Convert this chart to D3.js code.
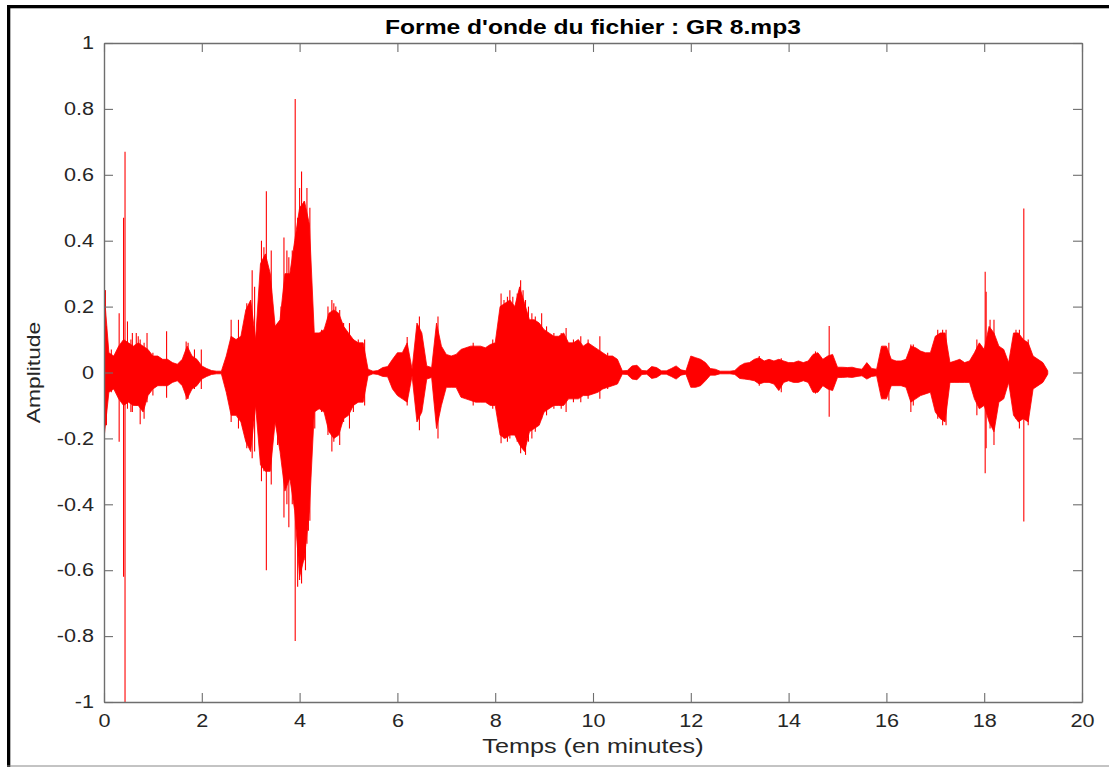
<!DOCTYPE html>
<html><head><meta charset="utf-8">
<script src="https://cdn.jsdelivr.net/npm/d3@7"></script>
<style>body{margin:0;background:#fff}svg{display:block}</style>
</head><body>
<svg id="c" width="1109" height="767"></svg>
<script>
// ---- data ----
const title = "Forme d'onde du fichier : GR 8.mp3";
const xLabel = "Temps (en minutes)";
const yLabel = "Amplitude";
const xTicks = [0,2,4,6,8,10,12,14,16,18,20];
const yTicks = [-1,-0.8,-0.6,-0.4,-0.2,0,0.2,0.4,0.6,0.8,1];
const yTickLabels = ["-1","-0.8","-0.6","-0.4","-0.2","0","0.2","0.4","0.6","0.8","1"];

// envelope sample times (minutes)
const envT = [
 0.0,0.1,0.2,0.3,0.4,0.5,0.6,0.7,0.8,0.9,
 1.0,1.1,1.2,1.3,1.4,1.5,1.6,1.7,1.8,1.9,
 2.0,2.1,2.2,2.3,2.4,2.5,2.6,2.7,2.8,2.9,
 3.0,3.1,3.2,3.3,3.4,3.5,3.6,3.7,3.8,3.9,
 4.0,4.1,4.2,4.3,4.4,4.5,4.6,4.7,4.8,4.9,
 5.0,5.1,5.2,5.3,5.4,5.5,5.6,5.7,5.8,5.9,
 6.0,6.1,6.2,6.3,6.4,6.5,6.6,6.7,6.8,6.9,
 7.0,7.1,7.2,7.3,7.4,7.5,7.6,7.7,7.8,7.9,
 8.0,8.1,8.2,8.3,8.4,8.5,8.6,8.7,8.8,8.9,
 9.0,9.1,9.2,9.3,9.4,9.5,9.6,9.7,9.8,9.9,
 10.0,10.1,10.2,10.3,10.4,10.5,10.6,10.7,10.8,10.9,
 11.0,11.1,11.2,11.3,11.4,11.5,11.6,11.7,11.8,11.9,
 12.0,12.1,12.2,12.3,12.4,12.5,12.6,12.7,12.8,12.9,
 13.0,13.1,13.2,13.3,13.4,13.5,13.6,13.7,13.8,13.9,
 14.0,14.1,14.2,14.3,14.4,14.5,14.6,14.7,14.8,14.9,
 15.0,15.1,15.2,15.3,15.4,15.5,15.6,15.7,15.8,15.9,
 16.0,16.1,16.2,16.3,16.4,16.5,16.6,16.7,16.8,16.9,
 17.0,17.1,17.2,17.3,17.4,17.5,17.6,17.7,17.8,17.9,
 18.0,18.1,18.2,18.3,18.4,18.5,18.6,18.7,18.8,18.9,
 19.0,19.1,19.2,19.3
];
// upper envelope of the waveform
const envHi = [
 0.25,0.06,0.05,0.08,0.10,0.09,0.08,0.09,0.08,0.07,
 0.05,0.05,0.04,0.04,0.03,0.025,0.04,0.08,0.05,0.04,
 0.02,0.012,0.006,0.004,0.004,0.05,0.11,0.10,0.11,0.19,
 0.22,0.10,0.33,0.36,0.30,0.14,0.16,0.30,0.30,0.40,
 0.50,0.52,0.45,0.12,0.12,0.13,0.18,0.19,0.18,0.14,
 0.12,0.10,0.09,0.09,0.01,0.004,0.006,0.015,0.018,0.04,
 0.06,0.06,0.09,0.01,0.15,0.12,0.02,0.015,0.15,0.08,
 0.055,0.05,0.055,0.07,0.075,0.08,0.08,0.08,0.075,0.085,
 0.09,0.20,0.21,0.22,0.20,0.26,0.21,0.16,0.16,0.15,
 0.13,0.12,0.11,0.11,0.12,0.09,0.09,0.10,0.08,0.09,
 0.08,0.07,0.06,0.05,0.05,0.04,0.005,0.006,0.02,0.022,
 0.006,0.005,0.018,0.015,0.005,0.005,0.012,0.02,0.008,0.005,
 0.05,0.045,0.04,0.03,0.012,0.01,0.004,0.004,0.004,0.006,
 0.02,0.028,0.03,0.04,0.045,0.035,0.04,0.035,0.04,0.035,
 0.03,0.03,0.035,0.03,0.035,0.055,0.06,0.04,0.05,0.055,
 0.016,0.016,0.015,0.016,0.012,0.01,0.03,0.012,0.01,0.08,
 0.08,0.04,0.035,0.035,0.04,0.08,0.075,0.065,0.06,0.06,
 0.11,0.12,0.12,0.03,0.035,0.04,0.03,0.035,0.06,0.09,
 0.07,0.14,0.12,0.08,0.07,0.03,0.12,0.12,0.10,0.09,
 0.05,0.04,0.03,0.005
];
// lower envelope of the waveform
const envLo = [
 -0.20,-0.06,-0.05,-0.08,-0.10,-0.09,-0.10,-0.10,-0.12,-0.07,
 -0.05,-0.04,-0.04,-0.04,-0.03,-0.025,-0.04,-0.08,-0.05,-0.04,
 -0.02,-0.012,-0.006,-0.004,-0.004,-0.06,-0.13,-0.13,-0.15,-0.21,
 -0.24,-0.10,-0.28,-0.30,-0.30,-0.15,-0.24,-0.36,-0.32,-0.42,
 -0.62,-0.56,-0.42,-0.12,-0.11,-0.12,-0.18,-0.20,-0.19,-0.14,
 -0.13,-0.10,-0.09,-0.09,-0.01,-0.004,-0.006,-0.012,-0.013,-0.05,
 -0.07,-0.08,-0.09,-0.01,-0.15,-0.12,-0.02,-0.015,-0.17,-0.10,
 -0.045,-0.045,-0.045,-0.075,-0.08,-0.085,-0.09,-0.09,-0.09,-0.10,
 -0.10,-0.19,-0.20,-0.19,-0.19,-0.22,-0.24,-0.18,-0.17,-0.16,
 -0.12,-0.11,-0.10,-0.10,-0.10,-0.08,-0.08,-0.08,-0.07,-0.07,
 -0.065,-0.06,-0.05,-0.045,-0.04,-0.035,-0.005,-0.006,-0.02,-0.022,
 -0.006,-0.005,-0.018,-0.015,-0.005,-0.005,-0.012,-0.02,-0.008,-0.005,
 -0.045,-0.045,-0.04,-0.025,-0.008,-0.008,-0.004,-0.004,-0.004,-0.006,
 -0.018,-0.02,-0.022,-0.025,-0.035,-0.03,-0.03,-0.035,-0.055,-0.03,
 -0.025,-0.03,-0.03,-0.025,-0.03,-0.06,-0.06,-0.04,-0.05,-0.055,
 -0.015,-0.015,-0.014,-0.015,-0.012,-0.01,-0.02,-0.012,-0.01,-0.08,
 -0.08,-0.04,-0.04,-0.04,-0.045,-0.09,-0.08,-0.07,-0.065,-0.06,
 -0.12,-0.14,-0.15,-0.03,-0.03,-0.03,-0.03,-0.03,-0.08,-0.11,
 -0.10,-0.15,-0.18,-0.09,-0.08,-0.03,-0.13,-0.15,-0.14,-0.15,
 -0.05,-0.04,-0.03,-0.005
];
// isolated peaks: time, max, min
const spikeT  = [0.0,0.03,0.05,0.15,0.31,0.40,0.43,0.48,0.55,0.58,0.66,0.70,0.74,0.82,0.88,1.00,1.28,1.68,1.72,1.85,1.99,
 2.60,2.75,2.85,2.92,3.03,3.08,3.22,3.27,3.32,3.42,3.55,3.62,3.68,3.74,3.78,3.85,3.91,3.96,4.00,4.04,4.09,4.12,4.15,4.18,4.21,
 4.31,4.38,4.45,4.58,4.66,4.70,4.74,4.82,4.90,5.02,5.10,5.20,5.33,
 6.20,6.45,6.83,7.55,7.95,8.05,8.12,8.18,8.25,8.30,8.36,8.45,8.52,8.57,8.62,8.68,8.75,8.82,8.95,
 9.05,9.20,9.35,9.45,9.60,9.75,9.90,10.14,10.30,
 13.40,13.85,14.55,14.83,16.05,16.50,16.55,17.05,17.15,17.22,17.85,18.02,18.04,18.12,18.20,18.65,18.72,18.81,18.90];
const spikeHi = [0.37,0.25,0.14,0.07,0.18,0.47,0.67,0.155,0.10,0.12,0.12,0.11,0.10,0.09,0.12,0.06,0.125,0.094,0.09,0.07,0.07,
 0.16,0.16,0.13,0.21,0.31,0.26,0.40,0.38,0.55,0.37,0.15,0.20,0.41,0.37,0.35,0.37,0.83,0.47,0.56,0.61,0.52,0.48,0.56,0.45,0.50,
 0.12,0.12,0.13,0.20,0.22,0.21,0.20,0.19,0.15,0.15,0.10,0.10,0.10,
 0.108,0.17,0.17,0.09,0.10,0.10,0.24,0.22,0.23,0.25,0.23,0.24,0.28,0.25,0.22,0.20,0.18,0.17,0.18,
 0.14,0.12,0.12,0.135,0.10,0.11,0.10,0.11,0.06,
 0.05,0.043,0.064,0.141,0.09,0.085,0.085,0.13,0.13,0.13,0.10,0.306,0.245,0.16,0.16,0.13,0.13,0.498,0.10];
const spikeLo = [-0.28,-0.16,-0.16,-0.06,-0.21,-0.62,-1.0,-0.11,-0.12,-0.12,-0.10,-0.10,-0.157,-0.14,-0.09,-0.07,-0.077,-0.083,-0.08,-0.05,-0.05,
 -0.15,-0.17,-0.17,-0.23,-0.26,-0.24,-0.33,-0.30,-0.60,-0.34,-0.22,-0.24,-0.44,-0.40,-0.47,-0.40,-0.815,-0.65,-0.63,-0.64,-0.57,-0.60,-0.52,-0.48,-0.45,
 -0.17,-0.10,-0.12,-0.19,-0.24,-0.21,-0.18,-0.22,-0.15,-0.17,-0.12,-0.09,-0.10,
 -0.10,-0.175,-0.20,-0.10,-0.11,-0.11,-0.215,-0.20,-0.21,-0.20,-0.19,-0.21,-0.245,-0.23,-0.25,-0.21,-0.20,-0.18,-0.14,
 -0.13,-0.11,-0.11,-0.12,-0.09,-0.09,-0.08,-0.08,-0.05,
 -0.04,-0.06,-0.064,-0.134,-0.085,-0.12,-0.10,-0.14,-0.16,-0.16,-0.13,-0.306,-0.23,-0.17,-0.22,-0.14,-0.17,-0.452,-0.16];

// ---- layout ----
const W = 1109, H = 767;
const m = {left:104, right:1082, top:43, bottom:702};
const STRETCH = 1.2;
const FONT = "'Liberation Sans', Arial, Helvetica, sans-serif";
const svg = d3.select("#c");

// figure frame
svg.append("rect").attr("x",7).attr("y",5).attr("width",W-7).attr("height",3.3).attr("fill","#000");
svg.append("rect").attr("x",7).attr("y",5).attr("width",3.3).attr("height",H-5).attr("fill","#000");
svg.append("line").attr("x1",7).attr("x2",W).attr("y1",766).attr("y2",766).attr("stroke","#888").attr("stroke-width",1);

const x = d3.scaleLinear().domain([0,20]).range([m.left,m.right]);
const y = d3.scaleLinear().domain([-1,1]).range([m.bottom,m.top]);

const plot = svg.append("g");
plot.append("defs").append("clipPath").attr("id","clip")
  .append("rect").attr("x",m.left).attr("y",m.top).attr("width",m.right-m.left).attr("height",m.bottom-m.top);

const env = envT.map((t,i)=>({t, hi:envHi[i], lo:envLo[i]}));
const area = d3.area().x(d=>x(d.t)).y0(d=>y(d.lo)).y1(d=>y(d.hi));
const g = plot.append("g").attr("clip-path","url(#clip)");
g.append("path").datum(env).attr("d",area).attr("fill","#ff0000").attr("stroke","#ff0000").attr("stroke-width",0.8);
const spikes = spikeT.map((t,i)=>({t, hi:spikeHi[i], lo:spikeLo[i]}));
g.selectAll("line.sp").data(spikes).join("line").attr("class","sp")
  .attr("x1",d=>x(d.t)).attr("x2",d=>x(d.t)).attr("y1",d=>y(d.lo)).attr("y2",d=>y(d.hi))
  .attr("stroke","#ff0000").attr("stroke-width",1.1);

// axes
const axColor = "#6e6e6e";
function styleAxis(sel){
  sel.select(".domain").attr("stroke",axColor).attr("stroke-width",1.4);
  sel.selectAll(".tick line").attr("stroke",axColor).attr("stroke-width",1.1);
  sel.selectAll("text").attr("fill","#262626").style("font-family",FONT).style("font-size","18px");
}
const xAxis = svg.append("g").attr("transform",`translate(0,${m.bottom})`)
  .call(d3.axisBottom(x).tickValues(xTicks).tickFormat(d3.format("d")).tickSizeInner(-9).tickSizeOuter(0).tickPadding(12));
styleAxis(xAxis);
const xAxisTop = svg.append("g").attr("transform",`translate(0,${m.top})`)
  .call(d3.axisTop(x).tickValues(xTicks).tickFormat("").tickSizeInner(-9).tickSizeOuter(0));
styleAxis(xAxisTop);
const yAxis = svg.append("g").attr("transform",`translate(${m.left},0)`)
  .call(d3.axisLeft(y).tickValues(yTicks).tickFormat((d,i)=>yTickLabels[i]).tickSizeInner(-9).tickSizeOuter(0).tickPadding(10));
styleAxis(yAxis);
const yAxisR = svg.append("g").attr("transform",`translate(${m.right},0)`)
  .call(d3.axisRight(y).tickValues(yTicks).tickFormat("").tickSizeInner(-9).tickSizeOuter(0));
styleAxis(yAxisR);

// titles
svg.append("text").attr("class","title").attr("x",(m.left+m.right)/2).attr("y",34)
  .attr("text-anchor","middle").style("font-family",FONT).style("font-weight","bold").style("font-size","20.5px")
  .attr("fill","#000").text(title);
svg.append("text").attr("x",(m.left+m.right)/2).attr("y",753)
  .attr("text-anchor","middle").style("font-family",FONT).style("font-size","21px")
  .attr("fill","#262626").text(xLabel);
svg.append("text").attr("transform",`translate(40,${(m.top+m.bottom)/2}) rotate(-90)`)
  .attr("text-anchor","middle").style("font-family",FONT).style("font-size","19px")
  .attr("fill","#262626").text(yLabel);

// horizontal stretch of all texts, as in the reference export
svg.selectAll("text").each(function(){
  const len = this.getComputedTextLength();
  if (len > 0) d3.select(this).attr("textLength", len*STRETCH).attr("lengthAdjust","spacingAndGlyphs");
});
</script>
</body></html>
